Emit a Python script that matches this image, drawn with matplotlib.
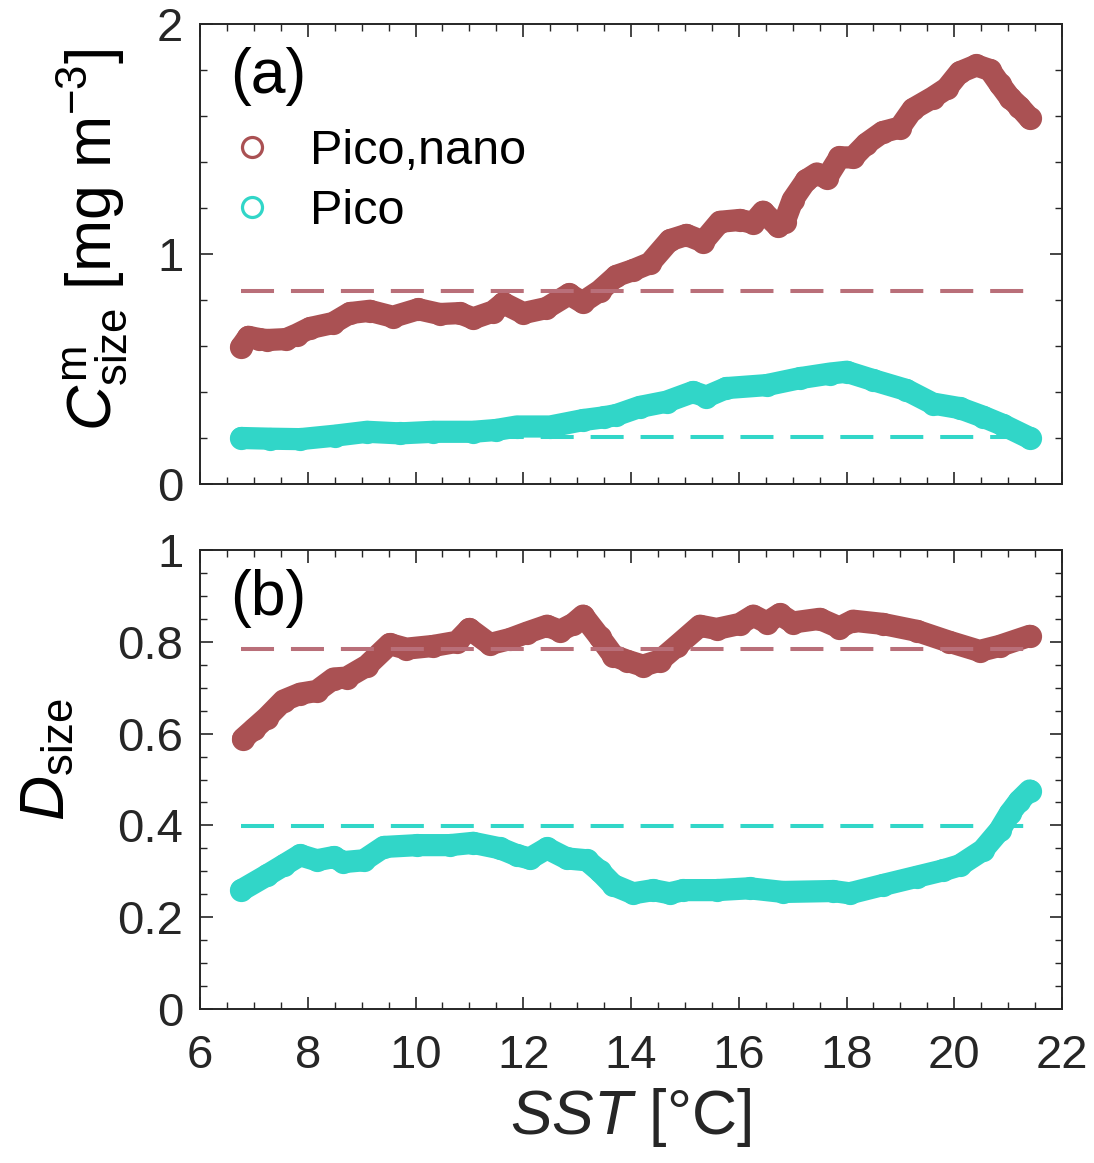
import matplotlib
matplotlib.use("Agg")
import matplotlib.pyplot as plt
from matplotlib.ticker import MultipleLocator, FixedLocator
from matplotlib.lines import Line2D

# ---------------- data ----------------
# Panel (a): C^m_size vs SST
sst_a_pn = [6.77, 6.90, 7.10, 7.24, 7.60, 7.80, 8.04, 8.47, 8.78, 9.15, 9.58, 10.05,
            10.45, 10.82, 11.07, 11.44, 11.63, 12.00, 12.43, 12.85, 13.10, 13.42, 13.73,
            14.04, 14.35, 14.72, 15.03, 15.34, 15.65, 16.02, 16.27, 16.45, 16.73, 16.85,
            17.00, 17.25, 17.45, 17.63, 17.87, 18.12, 18.37, 18.67, 18.99, 19.23, 19.60,
            19.86, 20.10, 20.41, 20.66, 20.84, 21.03, 21.21, 21.40]
c_pico_nano = [0.597, 0.640, 0.630, 0.626, 0.630, 0.650, 0.678, 0.700, 0.743, 0.753, 0.727, 0.760,
               0.739, 0.743, 0.720, 0.750, 0.786, 0.743, 0.765, 0.825, 0.790, 0.840, 0.905,
               0.930, 0.960, 1.060, 1.083, 1.054, 1.140, 1.148, 1.135, 1.184, 1.120, 1.140,
               1.235, 1.320, 1.350, 1.330, 1.420, 1.420, 1.480, 1.530, 1.550, 1.630, 1.680,
               1.720, 1.790, 1.820, 1.800, 1.740, 1.680, 1.640, 1.590]

sst_a_p = [6.77, 7.30, 7.86, 8.50, 9.10, 9.71, 10.33, 11.07, 11.50, 11.88, 12.50, 13.11,
           13.50, 13.73, 14.16, 14.66, 15.15, 15.40, 15.77, 16.52, 17.13, 17.69, 18.00,
           18.49, 19.11, 19.60, 20.10, 20.53, 20.90, 21.40]
c_pico = [0.200, 0.197, 0.195, 0.210, 0.227, 0.220, 0.227, 0.227, 0.235, 0.250, 0.250, 0.278,
          0.290, 0.300, 0.335, 0.358, 0.400, 0.380, 0.417, 0.430, 0.460, 0.480, 0.488,
          0.452, 0.409, 0.350, 0.330, 0.293, 0.257, 0.200]

# Panel (b): D_size vs SST
sst_b_pn = [6.80, 7.00, 7.24, 7.55, 7.86, 8.17, 8.48, 8.72, 9.10, 9.52, 9.83, 10.33, 10.77,
            11.00, 11.38, 11.75, 12.07, 12.44, 12.68, 12.93, 13.11, 13.42, 13.67, 13.92,
            14.22, 14.53, 14.85, 15.28, 15.59, 16.02, 16.27, 16.52, 16.76, 17.00, 17.50,
            17.87, 18.12, 18.67, 19.30, 19.91, 20.47, 20.84, 21.40]
d_pico_nano = [0.589, 0.610, 0.635, 0.672, 0.687, 0.693, 0.720, 0.722, 0.748, 0.795, 0.785,
               0.791, 0.800, 0.828, 0.795, 0.806, 0.820, 0.835, 0.824, 0.839, 0.857, 0.810,
               0.770, 0.759, 0.748, 0.759, 0.791, 0.835, 0.828, 0.839, 0.857, 0.842, 0.860,
               0.842, 0.850, 0.831, 0.846, 0.839, 0.824, 0.800, 0.780, 0.791, 0.813]

sst_b_p = [6.77, 7.24, 7.55, 7.86, 8.17, 8.48, 8.66, 9.04, 9.41, 10.03, 10.64, 11.07, 11.57,
           11.88, 12.12, 12.44, 12.81, 13.18, 13.42, 13.67, 14.04, 14.41, 14.72, 14.97,
           15.59, 16.20, 16.82, 17.75, 18.06, 18.67, 19.30, 19.79, 20.10, 20.53, 20.84,
           21.03, 21.21, 21.40]
d_pico = [0.259, 0.291, 0.313, 0.335, 0.324, 0.331, 0.320, 0.324, 0.353, 0.357, 0.357, 0.362,
          0.350, 0.335, 0.328, 0.350, 0.328, 0.324, 0.300, 0.270, 0.252, 0.259, 0.252, 0.259,
          0.259, 0.263, 0.255, 0.257, 0.252, 0.270, 0.288, 0.302, 0.313, 0.346, 0.389,
          0.426, 0.454, 0.476]

# reference (mean) levels
mean_a = {"Pico,nano": 0.839, "Pico": 0.204}
mean_b = {"Pico,nano": 0.785, "Pico": 0.398}
sst_range = [6.77, 21.45]

labels = ["Pico,nano", "Pico"]
x_ticks = [6, 8, 10, 12, 14, 16, 18, 20, 22]
ya_ticks = [0, 1, 2]
yb_ticks = [0, 0.2, 0.4, 0.6, 0.8, 1]

# ---------------- style ----------------
RED = "#AA5153"
RED_DASH = "#B96F79"
CYAN = "#31D6C8"
AXC = "#262626"

plt.rcParams["font.family"] = ["Liberation Sans", "DejaVu Sans"]
plt.rcParams["mathtext.fontset"] = "custom"
plt.rcParams["mathtext.rm"] = "Liberation Sans"
plt.rcParams["mathtext.it"] = "Liberation Sans:italic"
plt.rcParams["mathtext.bf"] = "Liberation Sans:bold"

fig = plt.figure(figsize=(10.94, 11.63), dpi=100)
ax_a = fig.add_axes([200 / 1094, 1 - 484 / 1163, 862 / 1094, 460 / 1163])
ax_b = fig.add_axes([200 / 1094, 1 - 1009 / 1163, 862 / 1094, 459 / 1163])

MS = 14.4
MEW = 2.3
LW_BAND = 16.0


def band(ax, x, y, color):
    ax.plot(x, y, color=color, lw=LW_BAND, solid_capstyle="round",
            solid_joinstyle="round", zorder=2)
    ax.plot(x, y, linestyle="none", marker="o", ms=MS, mfc="none", mec=color,
            mew=MEW, zorder=3)


def dash(ax, level, color):
    ax.plot(sst_range, [level, level], color=color, lw=2.9, dashes=(8.2, 4.2),
            zorder=4)


band(ax_a, sst_a_pn, c_pico_nano, RED)
band(ax_a, sst_a_p, c_pico, CYAN)
dash(ax_a, mean_a["Pico,nano"], RED_DASH)
dash(ax_a, mean_a["Pico"], CYAN)

band(ax_b, sst_b_pn, d_pico_nano, RED)
band(ax_b, sst_b_p, d_pico, CYAN)
dash(ax_b, mean_b["Pico,nano"], RED_DASH)
dash(ax_b, mean_b["Pico"], CYAN)

for ax, yt, ymin_step in ((ax_a, ya_ticks, 0.2), (ax_b, yb_ticks, 0.05)):
    ax.set_xlim(6, 22)
    ax.set_ylim(yt[0], yt[-1])
    ax.xaxis.set_major_locator(FixedLocator(x_ticks))
    ax.xaxis.set_minor_locator(MultipleLocator(0.5))
    ax.yaxis.set_major_locator(FixedLocator(yt))
    ax.yaxis.set_minor_locator(MultipleLocator(ymin_step))
    ax.tick_params(which="both", direction="in", top=True, right=True,
                   color=AXC, labelcolor=AXC, labelsize=34)
    ax.tick_params(which="major", length=9, width=1.2)
    ax.tick_params(which="minor", length=5, width=1.0)
    ax.tick_params(axis="y", pad=12)
    ax.tick_params(axis="x", pad=18)
    for s in ax.spines.values():
        s.set_color(AXC)
        s.set_linewidth(1.4)

ax_a.tick_params(axis="x", labelbottom=False)
ax_b.set_yticklabels(["0", "0.2", "0.4", "0.6", "0.8", "1"])

ax_a.text(0.035, 0.885, "(a)", transform=ax_a.transAxes, fontsize=45,
          ha="left", va="center", color="black")
ax_b.text(0.035, 0.895, "(b)", transform=ax_b.transAxes, fontsize=45,
          ha="left", va="center", color="black")

handles = [Line2D([], [], linestyle="none", marker="o", ms=MS, mfc="none",
                  mec=c, mew=MEW) for c in (RED, CYAN)]
ax_a.legend(handles, labels, loc="upper left", bbox_to_anchor=(0.015, 0.815),
            frameon=False, fontsize=35, handletextpad=0.8, labelspacing=0.32,
            borderaxespad=0.0, borderpad=0.4, handlelength=0.8)

ax_a.set_ylabel(r"$C^{\mathrm{m}}_{\mathrm{size}}$ [mg m$^{-3}$]", fontsize=45,
                color="black")
ax_a.yaxis.set_label_coords(-0.081, 0.53)
ax_b.set_ylabel(r"$D_{\mathrm{size}}$", fontsize=45, color="black")
ax_b.yaxis.set_label_coords(-0.142, 0.544)
ax_b.set_xlabel(r"$SST$ [°C]", fontsize=45, color=AXC, labelpad=6)

fig.savefig("out.png", dpi=100)
